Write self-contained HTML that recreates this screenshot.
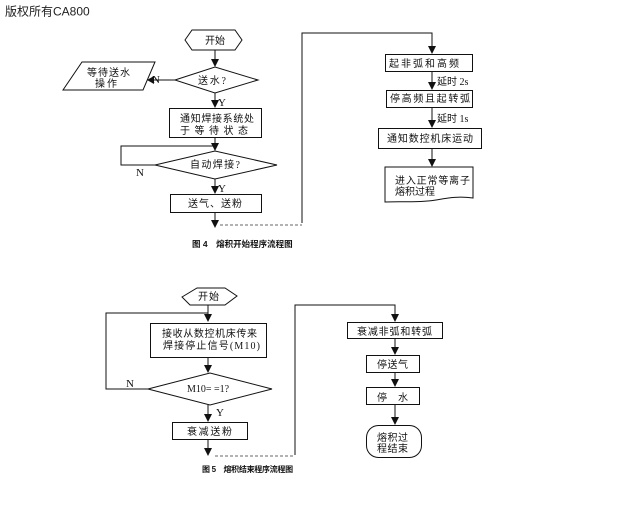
<!DOCTYPE html>
<html>
<head>
<meta charset="utf-8">
<style>
html,body{margin:0;padding:0;background:#fff;}
svg{display:block;}
text{font-family:"Liberation Serif","Noto Sans CJK SC","Noto Serif CJK SC",serif;fill:#111;}
.t{font-size:10px;}
.cap{font-family:"Liberation Sans","Noto Sans CJK SC",sans-serif;font-size:8.5px;font-weight:bold;}
.lbl{font-size:11px;}
</style>
</head>
<body>
<svg width="640" height="508" viewBox="0 0 640 508" xmlns="http://www.w3.org/2000/svg">
<rect width="640" height="508" fill="#fff"/>
<text x="5" y="15.5" style="font-family:'Liberation Sans','Noto Sans CJK SC',sans-serif;font-size:12px;fill:#222">版权所有CA800</text>

<g fill="none" stroke="#111" stroke-width="1">
<!-- ===== Figure 4 ===== -->
<polygon points="185,40 192,30 235,30 242,40 235,50 192,50"/>
<line x1="215" y1="50" x2="215" y2="60"/>
<polygon points="175,80 215,67 258,80 215,93"/>
<polygon points="82,62 155,62 143,90 63,90"/>
<line x1="175" y1="80" x2="152" y2="80"/>
<line x1="215" y1="93" x2="215" y2="101"/>
<rect x="169.5" y="108.5" width="92" height="29"/>
<line x1="215" y1="138" x2="215" y2="144"/>
<polyline points="155,165 121,165 121,146 215,146"/>
<polygon points="155,165 215,151 277,165 215,179"/>
<line x1="215" y1="179" x2="215" y2="187"/>
<rect x="170.5" y="194.5" width="91" height="18"/>
<line x1="215" y1="213" x2="215" y2="220"/>
<line x1="220" y1="225" x2="302" y2="225" stroke="#666" stroke-dasharray="3,2"/>
<polyline points="302,223 302,33 432,33 432,47"/>
<rect x="385.5" y="54.5" width="87" height="17"/>
<line x1="432" y1="72" x2="432" y2="83"/>
<rect x="386.5" y="90.5" width="86" height="17"/>
<line x1="432" y1="108" x2="432" y2="121"/>
<rect x="378.5" y="128.5" width="103" height="20"/>
<line x1="432" y1="149" x2="432" y2="160"/>
<path d="M385,167 H473 V198 C458,196 448,198 436,200 C420,203 402,201 385,202 Z"/>

<!-- ===== Figure 5 ===== -->
<polygon points="182,297 197,288 225,288 237,296 225,305 190,305"/>
<line x1="208" y1="305" x2="208" y2="315"/>
<polyline points="148,389 106,389 106,313 208,313"/>
<rect x="150.5" y="323.5" width="116" height="34"/>
<line x1="208" y1="358" x2="208" y2="366"/>
<polygon points="148,389 210,373 272,389 210,405"/>
<line x1="208" y1="405" x2="208" y2="414"/>
<rect x="172.5" y="422.5" width="75" height="17"/>
<line x1="208" y1="440" x2="208" y2="448"/>
<line x1="215" y1="456" x2="293" y2="456" stroke="#666" stroke-dasharray="3,2"/>
<polyline points="295,455 295,305 395,305 395,315"/>
<rect x="347.5" y="322.5" width="95" height="16"/>
<line x1="395" y1="339" x2="395" y2="348"/>
<rect x="366.5" y="355.5" width="53" height="17"/>
<line x1="395" y1="373" x2="395" y2="380"/>
<rect x="366.5" y="387.5" width="53" height="17"/>
<line x1="395" y1="405" x2="395" y2="418"/>
<rect x="366.5" y="425.5" width="55" height="32" rx="12" ry="12"/>
</g>

<!-- arrowheads -->
<g fill="#111">
<polygon points="215,67 211,59 219,59"/>
<polygon points="147,80 154,76 154,84"/>
<polygon points="215,108 211,100 219,100"/>
<polygon points="215,151 211,143 219,143"/>
<polygon points="215,194 211,186 219,186"/>
<polygon points="215,228 211,220 219,220"/>
<polygon points="432,54 428,46 436,46"/>
<polygon points="432,90 428,82 436,82"/>
<polygon points="432,128 428,120 436,120"/>
<polygon points="432,167 428,159 436,159"/>
<polygon points="208,322 204,314 212,314"/>
<polygon points="208,373 204,365 212,365"/>
<polygon points="208,422 204,414 212,414"/>
<polygon points="208,456 204,448 212,448"/>
<polygon points="395,322 391,314 399,314"/>
<polygon points="395,355 391,347 399,347"/>
<polygon points="395,387 391,379 399,379"/>
<polygon points="395,425 391,417 399,417"/>
</g>

<!-- Figure 4 text -->
<text class="t" x="215" y="44" text-anchor="middle">开始</text>
<text class="t" x="198" y="84" textLength="28">送水?</text>
<text class="t" x="87" y="76" textLength="43">等待送水</text>
<text class="t" x="95" y="87" textLength="22">操作</text>
<text class="lbl" x="152" y="83">N</text>
<text class="lbl" x="218" y="106">Y</text>
<text class="t" x="180" y="122" textLength="74">通知焊接系统处</text>
<text class="t" x="180" y="134" textLength="68">于等待状态</text>
<text class="t" x="190" y="168" textLength="50">自动焊接?</text>
<text class="lbl" x="136" y="176">N</text>
<text class="lbl" x="218" y="192">Y</text>
<text class="t" x="188" y="207" textLength="54">送气、送粉</text>
<text class="cap" x="192" y="247">图 4　熔积开始程序流程图</text>

<text class="t" x="389" y="67" textLength="70">起非弧和高频</text>
<text class="t" x="437" y="85">延时 2s</text>
<text class="t" x="390" y="102" textLength="80">停高频且起转弧</text>
<text class="t" x="437" y="122">延时 1s</text>
<text class="t" x="387" y="142" textLength="86">通知数控机床运动</text>
<text class="t" x="395" y="184" textLength="75">进入正常等离子</text>
<text class="t" x="395" y="195" textLength="40">熔积过程</text>

<!-- Figure 5 text -->
<text class="t" x="198" y="300" textLength="21">开始</text>
<text class="t" x="162" y="337" textLength="95">接收从数控机床传来</text>
<text class="t" x="163" y="349" textLength="97">焊接停止信号(M10)</text>
<text class="t" x="187" y="392">M10= =1?</text>
<text class="lbl" x="126" y="387">N</text>
<text class="lbl" x="216" y="416">Y</text>
<text class="t" x="187" y="435" textLength="45">衰减送粉</text>
<text class="cap" x="202" y="472" style="font-size:8px;letter-spacing:-0.3px">图 5　熔积结束程序流程图</text>

<text class="t" x="357" y="335" textLength="75">衰减非弧和转弧</text>
<text class="t" x="377" y="368" textLength="31">停送气</text>
<text class="t" x="377" y="401" textLength="31">停　水</text>
<text class="t" x="377" y="441" textLength="31">熔积过</text>
<text class="t" x="377" y="452" textLength="31">程结束</text>
</svg>
</body>
</html>
